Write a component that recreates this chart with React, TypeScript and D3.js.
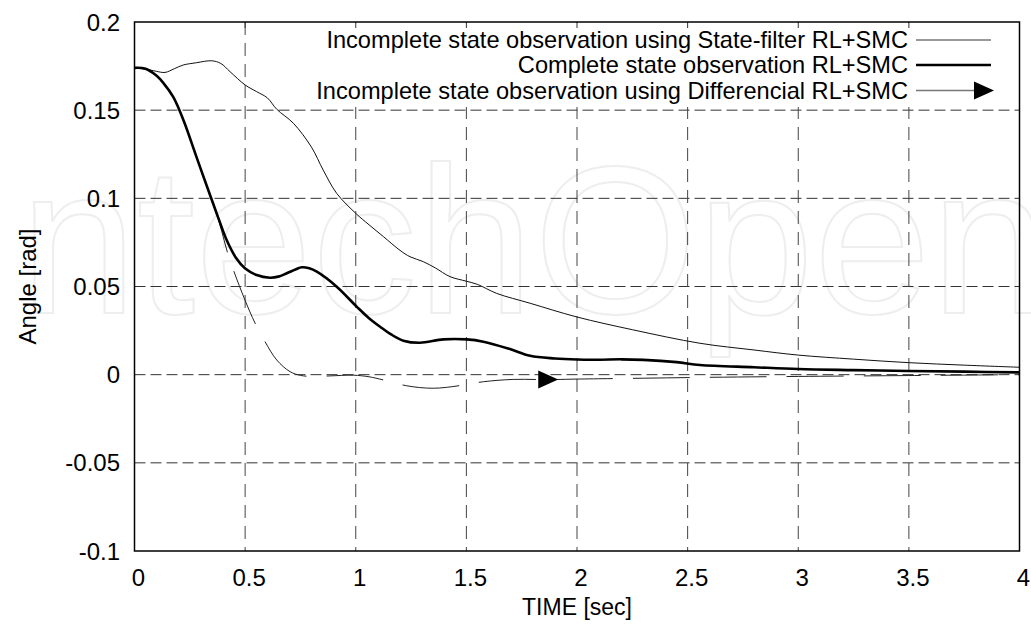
import React from "react";
import * as d3 from "d3";

const xTicks = [0, 0.5, 1, 1.5, 2, 2.5, 3, 3.5, 4];
const xTickLabels = ["0", "0.5", "1", "1.5", "2", "2.5", "3", "3.5", "4"];
const yTicks = [0.2, 0.15, 0.1, 0.05, 0, -0.05, -0.1];
const yTickLabels = ["0.2", "0.15", "0.1", "0.05", "0", "-0.05", "-0.1"];

const tA = [0, 0.02, 0.07, 0.1, 0.138, 0.18, 0.22, 0.28, 0.349, 0.39, 0.432, 0.5, 0.552, 0.6, 0.643, 0.718, 0.8, 0.853, 0.914, 1.0, 1.06, 1.125, 1.2, 1.245, 1.305, 1.36, 1.426, 1.5, 1.55, 1.637, 1.788, 2.0, 2.25, 2.556, 2.8, 3.0, 3.25, 3.5, 3.75, 4.0];
const sA = [0.174, 0.1737, 0.1728, 0.172, 0.1714, 0.1735, 0.1756, 0.1769, 0.178, 0.1765, 0.1718, 0.1643, 0.1605, 0.157, 0.1505, 0.1426, 0.129, 0.116, 0.1028, 0.0915, 0.085, 0.0783, 0.0705, 0.0669, 0.0641, 0.0605, 0.0556, 0.053, 0.0512, 0.0461, 0.0405, 0.0327, 0.0255, 0.0178, 0.014, 0.0111, 0.0088, 0.0068, 0.0054, 0.0042];

const tB = [0, 0.05, 0.1, 0.13, 0.175, 0.221, 0.28, 0.341, 0.38, 0.417, 0.46, 0.499, 0.552, 0.612, 0.65, 0.688, 0.73, 0.756, 0.79, 0.824, 0.914, 1.004, 1.06, 1.11, 1.16, 1.215, 1.29, 1.396, 1.501, 1.577, 1.697, 1.788, 1.9, 2.0, 2.1, 2.2, 2.3, 2.45, 2.556, 2.8, 3.0, 3.25, 3.5, 3.75, 4.0];
const sB = [0.174, 0.1735, 0.1695, 0.1655, 0.1575, 0.1444, 0.1235, 0.102, 0.0885, 0.0762, 0.066, 0.0603, 0.0565, 0.055, 0.0556, 0.0575, 0.0598, 0.0609, 0.0603, 0.0584, 0.0499, 0.0386, 0.032, 0.0272, 0.0228, 0.0193, 0.0181, 0.02, 0.02, 0.0187, 0.0145, 0.0107, 0.0092, 0.0086, 0.0085, 0.0087, 0.0084, 0.0071, 0.0055, 0.0042, 0.0032, 0.0026, 0.0021, 0.0017, 0.0013];

const tC = [0, 0.05, 0.1, 0.13, 0.175, 0.221, 0.28, 0.341, 0.371, 0.395, 0.417, 0.447, 0.499, 0.545, 0.59, 0.643, 0.703, 0.75, 0.8, 0.884, 0.989, 1.06, 1.125, 1.23, 1.35, 1.471, 1.577, 1.712, 1.87, 2.0, 2.3, 2.6, 3.0, 3.5, 4.0];
const sC = [0.174, 0.1735, 0.1695, 0.1655, 0.1575, 0.1444, 0.1235, 0.102, 0.091, 0.081, 0.0707, 0.0594, 0.0424, 0.0292, 0.0187, 0.0083, 0.0017, -0.0004, -0.001, -0.0007, -0.0003, -0.0012, -0.003, -0.0063, -0.0077, -0.0062, -0.004, -0.0027, -0.0028, -0.0025, -0.002, -0.0015, -0.001, -0.0005, 0.0];
const arrowT = 1.87;

const legendLabels = [
  "Incomplete state observation using State-filter RL+SMC",
  "Complete state observation RL+SMC",
  "Incomplete state observation using Differencial RL+SMC",
];

const W = 1031;
const H = 626;
const L = 134.5, R = 1019.5, T = 22, B = 551;

export default function App() {
  const x = d3.scaleLinear().domain([0, 4]).range([L, R]);
  const y = d3.scaleLinear().domain([-0.1, 0.2]).range([B, T]);
  const line = d3
    .line<[number, number]>()
    .x((d) => x(d[0]))
    .y((d) => y(d[1]))
    .curve(d3.curveCatmullRom.alpha(0.5));
  const pA = line(tA.map((t, i) => [t, sA[i]]) as [number, number][]) || "";
  const pB = line(tB.map((t, i) => [t, sB[i]]) as [number, number][]) || "";
  const pC = line(tC.map((t, i) => [t, sC[i]]) as [number, number][]) || "";
  const ai = tC.indexOf(arrowT);
  const ax = x(arrowT);
  const ay = y(sC[ai]);
  const font = "'Liberation Sans', Arial, sans-serif";
  const legY = [40, 65, 90.5];
  const tri = (cx: number, cy: number) =>
    `M${cx - 10},${cy - 9} L${cx + 10},${cy} L${cx - 10},${cy + 9} Z`;

  return (
    <svg
      width={W}
      height={H}
      style={{ position: "absolute", left: 0, top: 0, background: "#fff" }}
      fontFamily={font}
    >
      <rect x={0} y={0} width={W} height={H} fill="#fff" />
      <text
        x={20}
        y={313}
        fontSize={210}
        fill="none"
        stroke="#eeeeee"
        strokeWidth={2}
        fontFamily={font}
      >
        ntechOpen
      </text>
      {yTicks.slice(1, -1).map((v) => (
        <line
          key={"gy" + v}
          x1={L}
          x2={R}
          y1={y(v)}
          y2={y(v)}
          stroke="#333"
          strokeWidth={1}
          strokeDasharray="11,5"
        />
      ))}
      {xTicks.slice(1, -1).map((v) => (
        <line
          key={"gx" + v}
          x1={x(v)}
          x2={x(v)}
          y1={T}
          y2={B}
          stroke="#444"
          strokeWidth={1}
          strokeDasharray="13,8"
        />
      ))}
      <rect x={300} y={T + 1} width={R - 301} height={84} fill="#fff" />
      {xTicks.slice(1, -1).map((v) => (
        <line key={"tt" + v} x1={x(v)} x2={x(v)} y1={T} y2={T + 6} stroke="#333" />
      ))}
      <path d={pA} fill="none" stroke="#111" strokeWidth={1} />
      <path
        d={pC}
        fill="none"
        stroke="#222"
        strokeWidth={1}
        strokeDasharray="57,20"
        strokeDashoffset={-5}
      />
      <path d={pB} fill="none" stroke="#000" strokeWidth={2.6} />
      <path d={tri(ax, ay)} fill="#000" />
      <rect x={L} y={T} width={R - L} height={B - T} fill="none" stroke="#000" strokeWidth={1.5} />
      {yTicks.map((v, i) => (
        <text key={"yl" + v} x={120} y={y(v) + 8.5} fontSize={24} textAnchor="end" fill="#000">
          {yTickLabels[i]}
        </text>
      ))}
      {xTicks.map((v, i) => (
        <text key={"xl" + v} x={x(v) + 4} y={586} fontSize={24} textAnchor="middle" fill="#000">
          {xTickLabels[i]}
        </text>
      ))}
      <text x={(L + R) / 2} y={615} fontSize={23} textAnchor="middle" fill="#000">
        TIME [sec]
      </text>
      <text
        transform={`translate(36, ${(T + B) / 2}) rotate(-90)`}
        fontSize={24}
        textAnchor="middle"
        fill="#000"
      >
        Angle [rad]
      </text>
      {legendLabels.map((s, i) => (
        <text key={"lg" + i} x={908} y={legY[i] + 8} fontSize={23.6} textAnchor="end" fill="#000">
          {s}
        </text>
      ))}
      <line x1={916} x2={991} y1={legY[0]} y2={legY[0]} stroke="#777" strokeWidth={1.5} />
      <line x1={916} x2={991} y1={legY[1]} y2={legY[1]} stroke="#000" strokeWidth={2.6} />
      <line x1={916} x2={980} y1={legY[2]} y2={legY[2]} stroke="#777" strokeWidth={1.5} />
      <path d={tri(984, legY[2])} fill="#000" />
    </svg>
  );
}
